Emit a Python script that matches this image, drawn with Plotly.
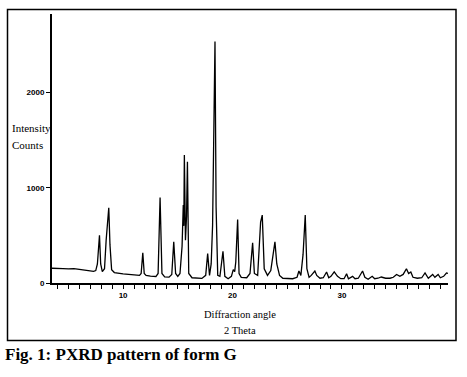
import plotly.graph_objects as go

two_theta = [3.5, 4.0, 4.5, 5.0, 5.5, 6.0, 6.5, 7.0, 7.3, 7.5, 7.65, 7.84, 7.95, 8.1, 8.3, 8.45, 8.6, 8.69,
             8.8, 8.95, 9.2, 9.6, 10.0, 10.5, 11.0, 11.5, 11.65, 11.8, 11.93, 12.1, 12.5, 13.0, 13.2, 13.38,
             13.55, 13.8, 14.2, 14.45, 14.63, 14.8, 15.0, 15.2, 15.39, 15.45, 15.5, 15.55, 15.6, 15.7, 15.8,
             15.88, 16.0, 16.3, 16.8, 17.2, 17.55, 17.73, 17.9, 18.05, 18.18, 18.3, 18.4, 18.5, 18.65, 18.85,
             19.13, 19.3, 19.6, 19.9, 20.07, 20.2, 20.3, 20.47, 20.6, 20.8, 21.3, 21.6, 21.84, 22.0, 22.3,
             22.57, 22.72, 22.9, 23.2, 23.5, 23.88, 24.05, 24.3, 24.6, 25.0, 25.5, 25.9, 26.07, 26.25, 26.45,
             26.65, 26.8, 27.0, 27.2, 27.53, 27.7, 28.0, 28.3, 28.6, 28.8, 29.0, 29.3, 29.6, 29.9, 30.2, 30.43,
             30.6, 30.98, 31.2, 31.5, 31.89, 32.1, 32.4, 32.77, 33.0, 33.3, 33.6, 34.0, 34.4, 34.7, 35.0, 35.3,
             35.6, 35.9, 36.1, 36.3, 36.5, 36.9, 37.3, 37.6, 37.9, 38.1, 38.3, 38.5, 38.8, 39.0, 39.3, 39.56,
             39.7]
intensity = [155, 150, 152, 148, 150, 142, 135, 128, 122, 130, 200, 500, 200, 120, 150, 450, 700, 790,
             400, 140, 110, 100, 95, 90, 85, 80, 100, 316, 100, 80, 72, 68, 100, 899,
             100, 65, 62, 90, 432, 100, 70, 100, 386, 700, 818, 600, 1344, 450, 700,
             1274, 100, 55, 50, 48, 80, 309, 80, 200, 607, 1500, 2537, 800, 80, 70,
             333, 70, 45, 70, 141, 120, 220, 667, 100, 60, 55, 100, 421, 100, 80,
             640, 713, 150, 80, 130, 432, 200, 80, 50, 45, 45, 60, 126, 80, 300,
             713, 150, 60, 80, 126, 80, 50, 55, 116, 55, 70, 116, 70, 45, 45, 98,
             45, 70, 45, 50, 126, 60, 40, 70, 45, 50, 63, 50, 50, 60, 90, 70,
             90, 150, 100, 116, 60, 50, 55, 105, 50, 75, 90, 60, 90, 55, 70, 105,
             100]

y_tickvals = [0, 1000, 2000]
x_tickvals = [10, 20, 30]

W, H = 467, 377
L, R, T, B = 52, 448, 14, 283.5


def px(x):
    return (x - L) / (R - L)


def py(y):
    return (B - y) / (B - T)


fig = go.Figure()
fig.add_trace(go.Scatter(x=two_theta, y=intensity, mode="lines",
                         line=dict(color="black", width=1.3), showlegend=False))

tick_font = dict(family="Liberation Sans, Arial", size=8, color="black")
fig.update_layout(
    width=W, height=H,
    margin=dict(l=L, r=W - R, t=T, b=H - B, autoexpand=False),
    paper_bgcolor="white", plot_bgcolor="white",
    xaxis=dict(range=[3.5, 39.7], tickvals=x_tickvals, ticktext=["<b>%d</b>" % v for v in x_tickvals],
               ticks="outside", ticklen=4, tickcolor="black", tickwidth=1,
               minor=dict(dtick=1, tick0=0, ticks="outside", ticklen=4, tickcolor="black", tickwidth=1),
               showline=True, linecolor="black", linewidth=1.5, showgrid=False, zeroline=False,
               tickfont=tick_font, automargin=False),
    yaxis=dict(range=[0, 2825], tickvals=y_tickvals, ticktext=["<b>%d</b>" % v for v in y_tickvals],
               ticks="outside", ticklen=4, tickcolor="black", tickwidth=1,
               showline=True, linecolor="black", linewidth=2, showgrid=False, zeroline=False,
               tickfont=tick_font, automargin=False),
)

serif = "Liberation Serif, Times New Roman"
fig.add_annotation(x=px(10), y=py(128), xref="paper", yref="paper", text="Intensity",
                   showarrow=False, xanchor="left", yanchor="middle",
                   font=dict(family=serif, size=11, color="black"))
fig.add_annotation(x=px(10), y=py(145), xref="paper", yref="paper", text="Counts",
                   showarrow=False, xanchor="left", yanchor="middle",
                   font=dict(family=serif, size=11, color="black"))
fig.add_annotation(x=px(240), y=py(315), xref="paper", yref="paper", text="Diffraction angle",
                   showarrow=False, xanchor="center", yanchor="middle",
                   font=dict(family=serif, size=10.5, color="black"))
fig.add_annotation(x=px(240), y=py(331), xref="paper", yref="paper", text="2 Theta",
                   showarrow=False, xanchor="center", yanchor="middle",
                   font=dict(family=serif, size=10.5, color="black"))
fig.add_annotation(x=px(3), y=py(355), xref="paper", yref="paper",
                   text="<b>Fig. 1: PXRD pattern of form G</b>",
                   showarrow=False, xanchor="left", yanchor="middle",
                   font=dict(family=serif, size=17, color="black"))

fig.add_shape(type="rect", xref="paper", yref="paper",
              x0=px(7.5), x1=px(456), y0=py(341), y1=py(9.5),
              line=dict(color="black", width=1.5), fillcolor="rgba(0,0,0,0)")

fig.write_html("out.html", config={"displayModeBar": False},
               post_script="document.body.style.margin='0';")
